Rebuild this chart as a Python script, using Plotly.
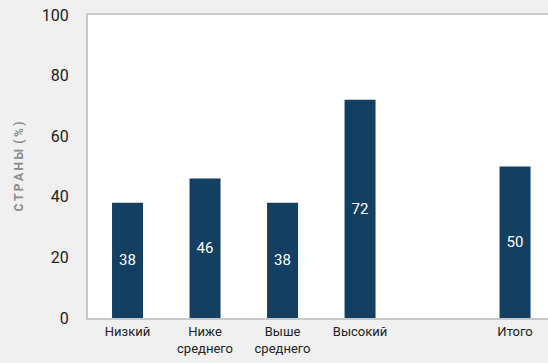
import plotly.graph_objects as go

categories = ["Низкий", "Ниже<br>среднего", "Выше<br>среднего", "Высокий", "", "Итого"]
positions = [0, 1, 2, 3, 4, 5]
values = [38, 46, 38, 72, None, 50]
labels = ["38", "46", "38", "72", "", "50"]
y_ticks = [0, 20, 40, 60, 80, 100]

bar_x = [p for p, v in zip(positions, values) if v is not None]
bar_y = [v for v in values if v is not None]
bar_t = [t for t, v in zip(labels, values) if v is not None]

fig = go.Figure(go.Bar(
    x=bar_x, y=bar_y, text=bar_t,
    width=0.4,
    marker=dict(color="#133f63", line=dict(width=0)),
    textposition="inside", insidetextanchor="middle",
    textfont=dict(color="white", size=15, family="Roboto"),
    textangle=0,
    hoverinfo="skip",
))

ts = "\u2009"
ytitle = ts.join("СТРАНЫ") + "\u00a0\u2009" + ts.join("(%)")

fig.update_layout(
    width=548, height=363,
    margin=dict(l=88, r=0, t=15, b=45, autoexpand=False),
    paper_bgcolor="#f0f0f0", plot_bgcolor="white",
    font=dict(family="Roboto", color="#222"),
    showlegend=False,
    xaxis=dict(
        tickmode="array", tickvals=positions, ticktext=categories,
        range=[-0.51, 5.425], showline=True, mirror=True, linecolor="#c8c8c8", linewidth=2,
        showgrid=False, zeroline=False, ticks="", tickfont=dict(size=13, color="#222"),
        automargin=False, fixedrange=True,
    ),
    yaxis=dict(
        range=[0, 100], tickvals=y_ticks, showline=True, linecolor="#c8c8c8", linewidth=2,
        showgrid=False, zeroline=False, ticks="", tickfont=dict(size=16, color="#222"),
        ticklabelstandoff=14, automargin=False, fixedrange=True,
        title=dict(text="<b>" + ytitle + "</b>", font=dict(size=12, color="#8a8a8a"), standoff=16),
    ),
)

fig.write_html(
    "out.html",
    config={"displayModeBar": False},
    post_script="document.body.style.margin='0';document.body.style.background='#f0f0f0';",
)
